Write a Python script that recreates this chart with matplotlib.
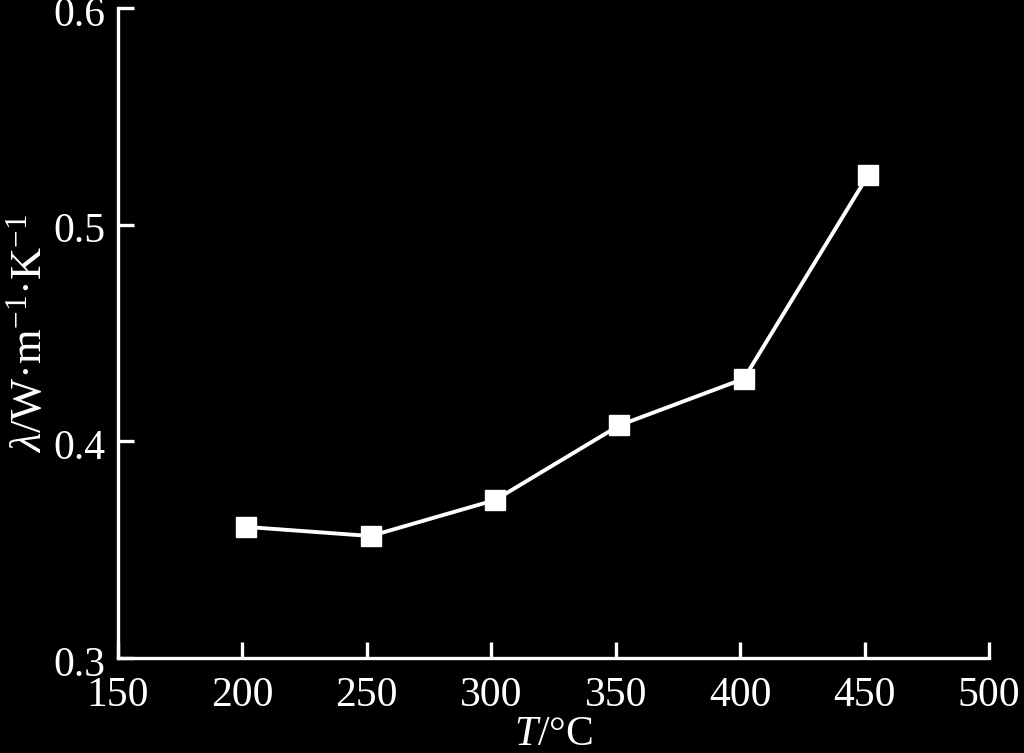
import matplotlib
matplotlib.use("Agg")
import matplotlib.pyplot as plt
from matplotlib.transforms import ScaledTranslation

# Data
temperature = [201.5, 251.5, 301.5, 351.5, 401.5, 451.5]
conductivity = [0.3605, 0.3563, 0.3729, 0.4074, 0.4289, 0.5230]
x_ticks = [150, 200, 250, 300, 350, 400, 450, 500]
y_ticks = [0.3, 0.4, 0.5, 0.6]
y_tick_labels = ["0.3", "0.4", "0.5", "0.6"]

plt.rcParams['font.family'] = ['Liberation Serif', 'DejaVu Serif', 'Noto Sans CJK SC']
plt.rcParams['mathtext.fontset'] = 'custom'
plt.rcParams['mathtext.rm'] = 'Liberation Serif'
plt.rcParams['mathtext.it'] = 'Liberation Serif:italic'

fig = plt.figure(figsize=(10.24, 7.53), dpi=100, facecolor='black')
ax = fig.add_axes([118/1024, 1 - 658/753, (989 - 118)/1024, (658 - 8)/753])
ax.set_facecolor('black')

ax.plot(temperature, conductivity, color='white', lw=2.8, marker='s',
        markersize=15, markerfacecolor='white', markeredgecolor='white', clip_on=False)

ax.set_xlim(150, 500)
ax.set_ylim(0.3, 0.6)
ax.set_xticks(x_ticks)
ax.set_xticklabels([str(v) for v in x_ticks])
ax.set_yticks(y_ticks)
ax.set_yticklabels(y_tick_labels)

for s in ['top', 'right']:
    ax.spines[s].set_visible(False)
for s in ['left', 'bottom']:
    ax.spines[s].set_color('white')
    ax.spines[s].set_linewidth(2.4)

ax.tick_params(axis='both', direction='in', length=11.5, width=2.4, colors='white',
               labelsize=30)
ax.tick_params(axis='x', pad=13)
ax.tick_params(axis='y', pad=9)

offset = ScaledTranslation(0, -3/100, fig.dpi_scale_trans)
for lab in ax.get_yticklabels():
    lab.set_transform(lab.get_transform() + offset)

ax.set_xlabel(r'$\mathit{T}$/°C', color='white', fontsize=30, labelpad=1)
ax.set_ylabel(r'$\mathit{\lambda}$/W·m$^{-1}$·K$^{-1}$', color='white', fontsize=32, labelpad=2)

fig.savefig('out.png', dpi=100, facecolor='black')
